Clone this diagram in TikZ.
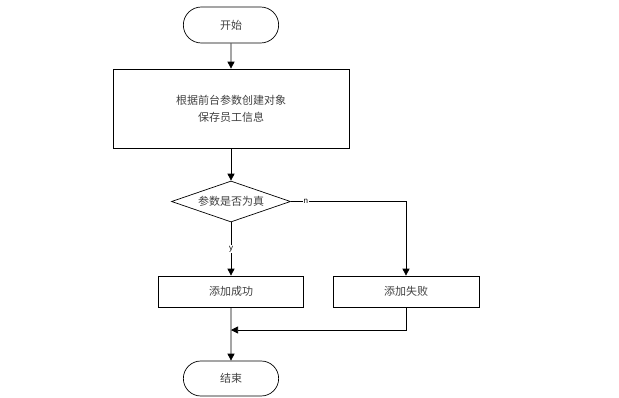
\documentclass[tikz,border=0pt]{standalone}
\usepackage{fontspec}
\setmainfont{Liberation Sans}
\newfontfamily\cjk{Noto Sans CJK SC}
\usetikzlibrary{arrows.meta, positioning, shapes.geometric, shapes.misc}

\begin{document}
\begin{tikzpicture}[x=1pt, y=-1pt, line width=0.7pt,
        >={Triangle[length=7pt, width=7pt]},
        every node/.style={text=black!75, font=\cjk\fontsize{11}{17}\selectfont},
        term/.style={rounded rectangle, draw=black, minimum width=102pt, minimum height=36pt},
        proc/.style={rectangle, draw=black, align=center, inner sep=0pt},
        cond/.style={diamond, draw=black, aspect=2.9, inner sep=0pt, minimum width=119pt, minimum height=41pt},
        lbl/.style={fill=white, inner sep=1pt, font=\rmfamily\fontsize{8}{9}\selectfont, text=black}]
        \useasboundingbox (0,0) rectangle (619,397);

        \node[term] (start) at (231, 25) {开始};
        \node[proc, minimum width=236pt, minimum height=79pt] (create) at (231, 108.5) {根据前台参数创建对象\\保存员工信息};
        \node[cond] (check) at (231, 201.5) {参数是否为真};
        \node[proc, minimum width=145pt, minimum height=31pt] (ok) at (231, 291.5) {添加成功};
        \node[proc, minimum width=146pt, minimum height=31pt] (fail) at (406, 291.5) {添加失败};
        \node[term, minimum height=35pt] (stop) at (231, 378.5) {结束};
        \coordinate (merge) at (231, 330);

        \draw[->] (start) -- (create);
        \draw[->] (create) -- (check);
        \draw[->] (check) -- (ok) node[lbl, midway] {y};
        \draw[->] (check.east) -- node[lbl, pos=0.13] {n} (fail.north |- check.east) -- (fail.north);
        \draw[->] (ok) -- (stop);
        \draw[->] (fail.south) |- (merge);
    \end{tikzpicture}
\end{document}
